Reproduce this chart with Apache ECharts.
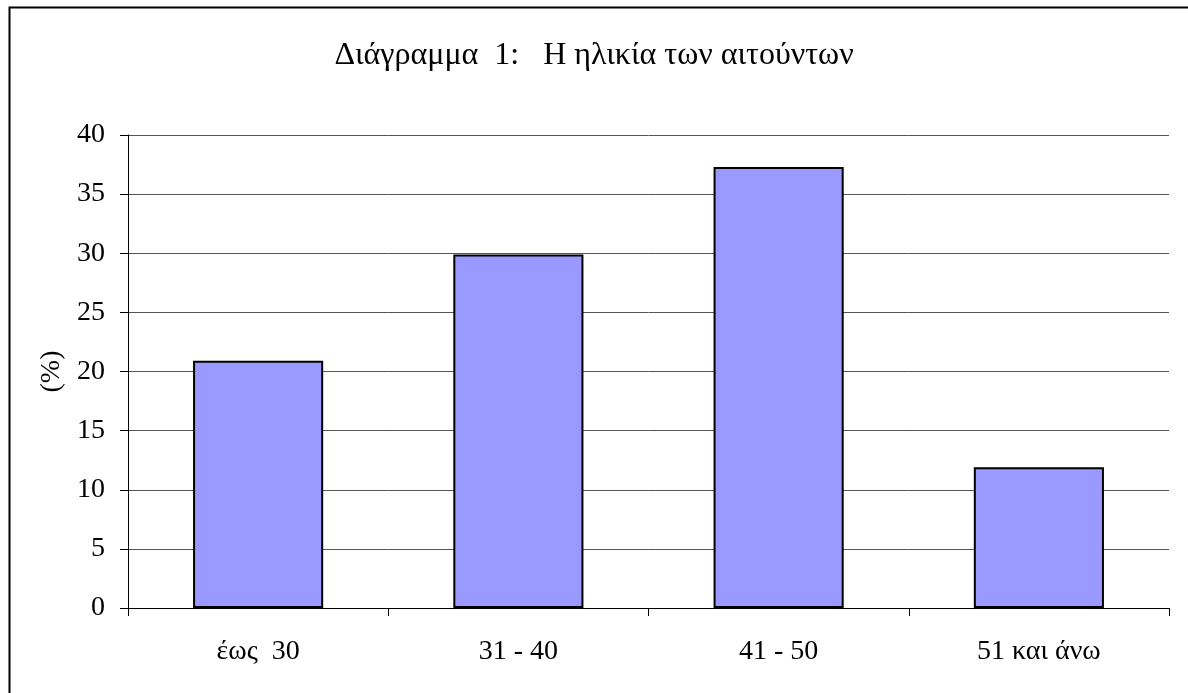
<!DOCTYPE html>
<html>
<head>
<meta charset="utf-8">
<script src="https://cdn.jsdelivr.net/npm/echarts@6/dist/echarts.min.js"></script>
<style>html,body{margin:0;padding:0;background:#fff}#c{width:1188px;height:693px}</style>
</head>
<body>
<div id="c"></div>
<script>
const categories = ['έως  30', '31 - 40', '41 - 50', '51 και άνω'];
const values = [20.9, 29.9, 37.3, 11.9];
const yTicks = { min: 0, max: 40, interval: 5 };
const titleText = 'Διάγραμμα  1:   Η ηλικία των αιτούντων';
const yName = '(%)';

const chart = echarts.init(document.getElementById('c'), null, { renderer: 'canvas' });
const font = '"Liberation Serif", "Times New Roman", serif';
chart.setOption({
  animation: false,
  backgroundColor: '#fff',
  textStyle: { fontFamily: font },
  graphic: [{
    type: 'rect', left: 7, top: 5, shape: { width: 1200, height: 700 },
    style: { fill: 'none', stroke: '#000', lineWidth: 2 }, silent: true
  }],
  title: {
    text: titleText, left: 'center', top: 35,
    textStyle: { fontFamily: font, fontSize: 32, fontWeight: 'normal', color: '#000' }
  },
  grid: { left: 128, right: 19, top: 135, bottom: 85, containLabel: false },
  xAxis: {
    type: 'category', data: categories,
    axisLine: { lineStyle: { color: '#000', width: 1 } },
    axisTick: { show: true, length: 8, alignWithLabel: false, lineStyle: { color: '#000' } },
    axisLabel: { fontFamily: font, fontSize: 28, color: '#000', margin: 30 },
    splitLine: { show: false }
  },
  yAxis: {
    type: 'value', min: yTicks.min, max: yTicks.max, interval: yTicks.interval,
    name: yName, nameLocation: 'middle', nameGap: 61, nameRotate: 90,
    nameTextStyle: { fontFamily: font, fontSize: 28, color: '#000' },
    axisLine: { show: true, lineStyle: { color: '#000', width: 1 } },
    axisTick: { show: true, length: 8, lineStyle: { color: '#000' } },
    axisLabel: { fontFamily: font, fontSize: 28, color: '#000', margin: 23 },
    splitLine: { show: true, lineStyle: { color: '#555', width: 1 } }
  },
  series: [{
    type: 'bar', data: values, barWidth: '50%',
    itemStyle: { color: '#9999FF', borderColor: '#000', borderWidth: 2 }
  }]
});
</script>
</body>
</html>
